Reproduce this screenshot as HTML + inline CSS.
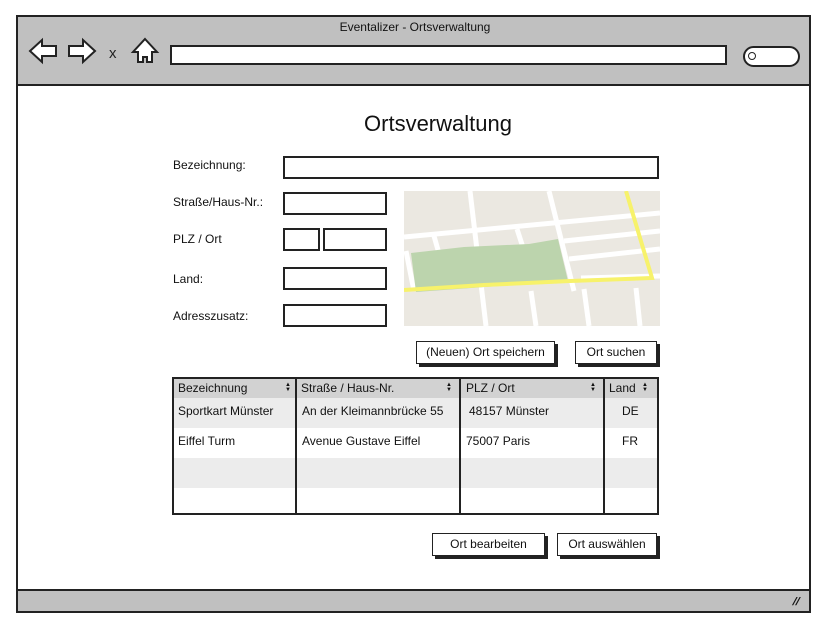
<!DOCTYPE html>
<html><head><meta charset="utf-8"><style>
*{margin:0;padding:0;box-sizing:border-box}
body{width:830px;height:630px;background:#fff;position:relative;overflow:hidden;font-family:"Liberation Sans",sans-serif;color:#111}
.a{position:absolute}
.inp{position:absolute;border:2px solid #222;background:#fff}
.lbl{position:absolute;font-size:12px}
.btn{position:absolute;border:1.5px solid #222;background:#fff;font-size:12px;text-align:center;box-shadow:3px 3px 0 #222;line-height:20px}
.cell{position:absolute;font-size:12px}
.srt{position:absolute;font-size:6px;line-height:5px;width:8px;text-align:center}
</style></head><body>
<div class="a" style="left:16px;top:15px;width:795px;height:598px;border:2px solid #222;background:#fff"></div>
<div class="a" style="left:16px;top:15px;width:795px;height:71px;border:2px solid #222;background:#c0c0c0"></div>
<div class="a" style="left:0;top:20px;width:830px;text-align:center;font-size:12px">Eventalizer - Ortsverwaltung</div>
<svg class="a" style="left:16px;top:30px" width="150" height="50">
<polygon points="14,21 26,10 26,16 40,16 40,26 26,26 26,32" fill="#fff" stroke="#222" stroke-width="2"/>
<polygon points="79,21 67,10 67,16 53,16 53,26 67,26 67,32" fill="#fff" stroke="#222" stroke-width="2"/>
<text x="93" y="28" font-size="15" font-family="Liberation Sans" fill="#222">x</text>
<polygon points="129,9 141,22 136,22 136,32 131,32 131,27 127,27 127,32 122,32 122,22 117,22" fill="#fff" stroke="#222" stroke-width="2"/>
</svg>
<div class="a" style="left:170px;top:45px;width:557px;height:20px;border:2.5px solid #222;background:#fff"></div>
<div class="a" style="left:743px;top:46px;width:57px;height:21px;border:2px solid #222;border-radius:11px;background:#fff"></div>
<div class="a" style="left:748px;top:52px;width:8px;height:8px;border:1.5px solid #222;border-radius:50%"></div>
<div class="a" style="left:16px;top:589px;width:795px;height:24px;border:2px solid #222;background:#c0c0c0"></div>
<div class="a" style="left:793px;top:596px;font-size:11px;font-weight:bold;transform:skewX(-20deg)">//</div>
<div class="a" style="left:0;top:111px;width:876px;text-align:center;font-size:22px">Ortsverwaltung</div>
<div class="lbl" style="left:173px;top:158px">Bezeichnung:</div>
<div class="lbl" style="left:173px;top:195px">Straße/Haus-Nr.:</div>
<div class="lbl" style="left:173px;top:232px">PLZ / Ort</div>
<div class="lbl" style="left:173px;top:272px">Land:</div>
<div class="lbl" style="left:173px;top:309px">Adresszusatz:</div>
<div class="inp" style="left:283px;top:156px;width:376px;height:23px"></div>
<div class="inp" style="left:283px;top:192px;width:104px;height:23px"></div>
<div class="inp" style="left:283px;top:228px;width:37px;height:23px"></div>
<div class="inp" style="left:323px;top:228px;width:64px;height:23px"></div>
<div class="inp" style="left:283px;top:267px;width:104px;height:23px"></div>
<div class="inp" style="left:283px;top:304px;width:104px;height:23px"></div>
<svg class="a" style="left:404px;top:191px" width="256" height="135">
<rect width="256" height="135" fill="#ebe8e1"/>
<g stroke="#fff" stroke-width="5" fill="none">
<line x1="0" y1="46" x2="256" y2="22"/>
<line x1="66" y1="0" x2="82" y2="135"/>
<line x1="145" y1="0" x2="170" y2="100"/>
<line x1="30" y1="45" x2="40" y2="80"/>
<line x1="113" y1="38" x2="125" y2="75"/>
<line x1="160" y1="50" x2="256" y2="40"/>
<line x1="165" y1="68" x2="256" y2="58"/>
<line x1="2" y1="60" x2="10" y2="100"/>
<line x1="177" y1="87" x2="256" y2="85"/>
<line x1="127" y1="100" x2="132" y2="135"/>
<line x1="180" y1="98" x2="185" y2="135"/>
<line x1="232" y1="97" x2="236" y2="135"/>
</g>
<polygon points="7,62 60,56 125,53 154,48 164,90 12,101" fill="#bcd4ad"/>
<g stroke="#f7f26b" stroke-width="4" fill="none">
<polyline points="0,99 80,94 166,90 248,87 222,0"/>
</g>
</svg>
<div class="btn" style="left:416px;top:341px;width:139px;height:23px">(Neuen) Ort speichern</div>
<div class="btn" style="left:575px;top:341px;width:82px;height:23px">Ort suchen</div>
<div class="btn" style="left:432px;top:533px;width:113px;height:23px">Ort bearbeiten</div>
<div class="btn" style="left:557px;top:533px;width:100px;height:23px">Ort auswählen</div>
<div class="a" style="left:172px;top:377px;width:487px;height:138px;border:2px solid #222;background:#fff;overflow:hidden">
 <div class="a" style="left:0;top:0;width:487px;height:19px;background:#d2d2d2"></div>
 <div class="a" style="left:0;top:19px;width:487px;height:30px;background:#ececec"></div>
 <div class="a" style="left:0;top:79px;width:487px;height:30px;background:#ececec"></div>
</div>
<div class="a" style="left:295px;top:377px;width:2px;height:138px;background:#222"></div>
<div class="a" style="left:459px;top:377px;width:2px;height:138px;background:#222"></div>
<div class="a" style="left:603px;top:377px;width:2px;height:138px;background:#222"></div>
<div class="cell" style="left:178px;top:381px">Bezeichnung</div>
<div class="srt" style="left:284px;top:383px">▲<br>▼</div>
<div class="cell" style="left:301px;top:381px">Straße / Haus-Nr.</div>
<div class="srt" style="left:445px;top:383px">▲<br>▼</div>
<div class="cell" style="left:466px;top:381px">PLZ / Ort</div>
<div class="srt" style="left:589px;top:383px">▲<br>▼</div>
<div class="cell" style="left:609px;top:381px">Land</div>
<div class="srt" style="left:641px;top:383px">▲<br>▼</div>
<div class="cell" style="left:178px;top:404px">Sportkart Münster</div>
<div class="cell" style="left:302px;top:404px">An der Kleimannbrücke 55</div>
<div class="cell" style="left:469px;top:404px">48157 Münster</div>
<div class="cell" style="left:622px;top:404px">DE</div>
<div class="cell" style="left:178px;top:434px">Eiffel Turm</div>
<div class="cell" style="left:302px;top:434px">Avenue Gustave Eiffel</div>
<div class="cell" style="left:466px;top:434px">75007 Paris</div>
<div class="cell" style="left:622px;top:434px">FR</div>
</body></html>
